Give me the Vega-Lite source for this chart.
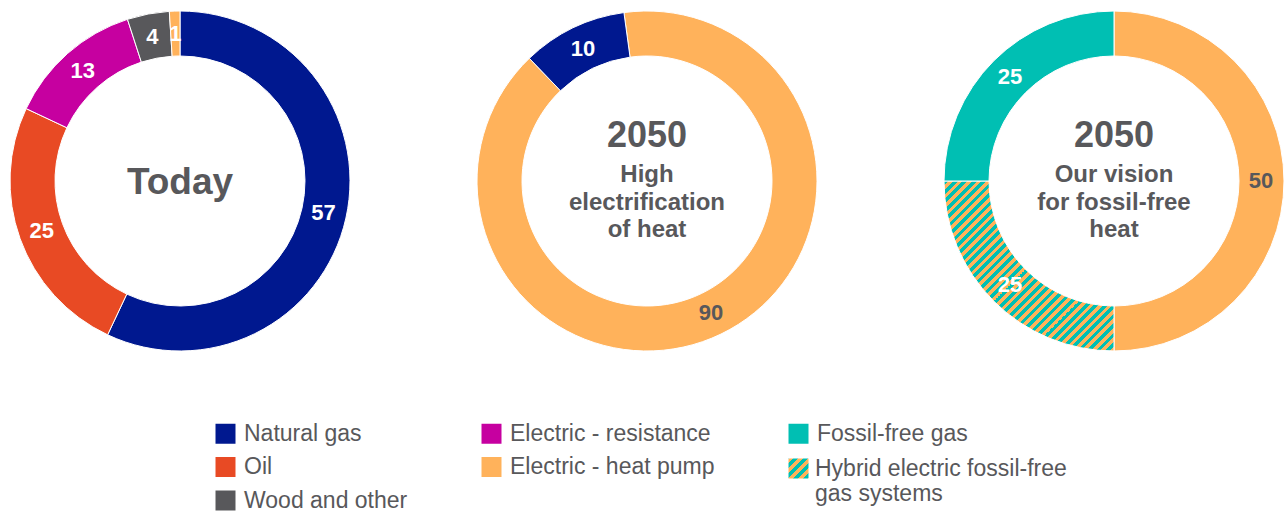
{
  "$schema": "https://vega.github.io/schema/vega-lite/v6.json",
  "background": "white",
  "padding": {"left": 8, "top": 9, "right": 0, "bottom": 0},
  "bounds": "flush",
  "datasets": {
    "heat": [
      {"panel": "Today", "category": "Natural gas", "value": 57, "order": 1},
      {"panel": "Today", "category": "Oil", "value": 25, "order": 2},
      {"panel": "Today", "category": "Electric - resistance", "value": 13, "order": 3},
      {"panel": "Today", "category": "Wood and other", "value": 4, "order": 4},
      {"panel": "Today", "category": "Electric - heat pump", "value": 1, "order": 5},
      {"panel": "2050 high electrification", "category": "Electric - heat pump", "value": 90, "order": 1},
      {"panel": "2050 high electrification", "category": "Natural gas", "value": 10, "order": 2},
      {"panel": "2050 fossil-free vision", "category": "Electric - heat pump", "value": 50, "order": 1},
      {"panel": "2050 fossil-free vision", "category": "Hybrid electric fossil-free gas systems", "value": 25, "order": 2},
      {"panel": "2050 fossil-free vision", "category": "Fossil-free gas", "value": 25, "order": 3}
    ]
  },
  "spacing": 127,
  "hconcat": [
    {
      "width": 340,
      "height": 340,
      "layer": [
        {
          "data": {"name": "heat"},
          "transform": [{"filter": "datum.panel === 'Today'"}],
          "mark": {"type": "arc", "innerRadius": 125, "outerRadius": 170, "stroke": "#ffffff", "strokeWidth": 1},
          "encoding": {
            "theta": {"field": "value", "type": "quantitative", "stack": true},
            "order": {"field": "order", "type": "quantitative"},
            "color": {
              "field": "category", "type": "nominal",
              "scale": {"domain": ["Natural gas", "Electric - resistance", "Fossil-free gas", "Oil", "Electric - heat pump", "Hybrid electric fossil-free gas systems", "Wood and other"]},
              "legend": {"orient": "none", "legendX": 204, "legendY": 411, "columns": 3, "direction": "horizontal", "title": null,
                "values": ["Natural gas", "Electric - resistance", "Fossil-free gas", "Oil", "Electric - heat pump", " ", "Wood and other"]}
            }
          }
        },
        {
          "data": {"name": "heat"},
          "transform": [{"filter": "datum.panel === 'Today'"}],
          "mark": {"type": "text", "radius": 147, "fontSize": 22, "fontWeight": "bold"},
          "encoding": {
            "theta": {"field": "value", "type": "quantitative", "stack": true},
            "order": {"field": "order", "type": "quantitative"},
            "detail": {"field": "category", "type": "nominal"},
            "text": {"field": "value", "type": "quantitative"},
            "color": {"condition": {"test": "datum.category === 'Electric - heat pump' && datum.value >= 50", "value": "#58585b"}, "value": "#ffffff"}
          }
        },
        {
          "data": {"values": [{}]},
          "mark": {"type": "text", "text": "Today", "fontSize": 37, "fontWeight": "bold", "color": "#58585b", "dy": 2},
          "encoding": {}
        }
      ]
    },
    {
      "width": 340,
      "height": 340,
      "layer": [
        {
          "data": {"name": "heat"},
          "transform": [{"filter": "datum.panel === '2050 high electrification'"}],
          "mark": {"type": "arc", "innerRadius": 125, "outerRadius": 170, "stroke": "#ffffff", "strokeWidth": 1},
          "encoding": {
            "theta": {"field": "value", "type": "quantitative", "stack": true, "scale": {"range": [-0.1361, 6.1471]}},
            "order": {"field": "order", "type": "quantitative"},
            "color": {
              "field": "category", "type": "nominal",
              "scale": {"domain": ["Natural gas", "Electric - resistance", "Fossil-free gas", "Oil", "Electric - heat pump", "Hybrid electric fossil-free gas systems", "Wood and other"]},
              "legend": {"orient": "none", "legendX": 204, "legendY": 411, "columns": 3, "direction": "horizontal", "title": null,
                "values": ["Natural gas", "Electric - resistance", "Fossil-free gas", "Oil", "Electric - heat pump", " ", "Wood and other"]}
            }
          }
        },
        {
          "data": {"name": "heat"},
          "transform": [{"filter": "datum.panel === '2050 high electrification'"}],
          "mark": {"type": "text", "radius": 147, "fontSize": 22, "fontWeight": "bold"},
          "encoding": {
            "theta": {"field": "value", "type": "quantitative", "stack": true, "scale": {"range": [-0.1361, 6.1471]}},
            "order": {"field": "order", "type": "quantitative"},
            "detail": {"field": "category", "type": "nominal"},
            "text": {"field": "value", "type": "quantitative"},
            "color": {"condition": {"test": "datum.category === 'Electric - heat pump' && datum.value >= 50", "value": "#58585b"}, "value": "#ffffff"}
          }
        },
        {
          "data": {"values": [{}]},
          "mark": {"type": "text", "text": "2050", "fontSize": 36, "fontWeight": "bold", "color": "#58585b", "dy": -45},
          "encoding": {}
        },
        {
          "data": {"values": [{}]},
          "mark": {"type": "text", "text": ["High", "electrification", "of heat"], "fontSize": 24, "lineHeight": 27.5, "fontWeight": "bold", "color": "#58585b", "dy": -6},
          "encoding": {}
        }
      ]
    },
    {
      "width": 340,
      "height": 340,
      "layer": [
        {
          "data": {"name": "heat"},
          "transform": [{"filter": "datum.panel === '2050 fossil-free vision'"}],
          "mark": {"type": "arc", "innerRadius": 125, "outerRadius": 170, "stroke": "#ffffff", "strokeWidth": 1},
          "encoding": {
            "theta": {"field": "value", "type": "quantitative", "stack": true},
            "order": {"field": "order", "type": "quantitative"},
            "color": {
              "condition": {"test": "datum.category === 'Hybrid electric fossil-free gas systems'", "value": {"gradient": "linear", "x1": 0, "y1": 0, "x2": 1, "y2": 1, "stops": [
                {"offset": 0, "color": "#00bfb3"}, {"offset": 0.0139, "color": "#00bfb3"},
                {"offset": 0.0139, "color": "#ffb25b"}, {"offset": 0.0278, "color": "#ffb25b"},
                {"offset": 0.0278, "color": "#00bfb3"}, {"offset": 0.0417, "color": "#00bfb3"},
                {"offset": 0.0417, "color": "#ffb25b"}, {"offset": 0.0556, "color": "#ffb25b"},
                {"offset": 0.0556, "color": "#00bfb3"}, {"offset": 0.0694, "color": "#00bfb3"},
                {"offset": 0.0694, "color": "#ffb25b"}, {"offset": 0.0833, "color": "#ffb25b"},
                {"offset": 0.0833, "color": "#00bfb3"}, {"offset": 0.0972, "color": "#00bfb3"},
                {"offset": 0.0972, "color": "#ffb25b"}, {"offset": 0.1111, "color": "#ffb25b"},
                {"offset": 0.1111, "color": "#00bfb3"}, {"offset": 0.125, "color": "#00bfb3"},
                {"offset": 0.125, "color": "#ffb25b"}, {"offset": 0.1389, "color": "#ffb25b"},
                {"offset": 0.1389, "color": "#00bfb3"}, {"offset": 0.1528, "color": "#00bfb3"},
                {"offset": 0.1528, "color": "#ffb25b"}, {"offset": 0.1667, "color": "#ffb25b"},
                {"offset": 0.1667, "color": "#00bfb3"}, {"offset": 0.1806, "color": "#00bfb3"},
                {"offset": 0.1806, "color": "#ffb25b"}, {"offset": 0.1944, "color": "#ffb25b"},
                {"offset": 0.1944, "color": "#00bfb3"}, {"offset": 0.2083, "color": "#00bfb3"},
                {"offset": 0.2083, "color": "#ffb25b"}, {"offset": 0.2222, "color": "#ffb25b"},
                {"offset": 0.2222, "color": "#00bfb3"}, {"offset": 0.2361, "color": "#00bfb3"},
                {"offset": 0.2361, "color": "#ffb25b"}, {"offset": 0.25, "color": "#ffb25b"},
                {"offset": 0.25, "color": "#00bfb3"}, {"offset": 0.2639, "color": "#00bfb3"},
                {"offset": 0.2639, "color": "#ffb25b"}, {"offset": 0.2778, "color": "#ffb25b"},
                {"offset": 0.2778, "color": "#00bfb3"}, {"offset": 0.2917, "color": "#00bfb3"},
                {"offset": 0.2917, "color": "#ffb25b"}, {"offset": 0.3056, "color": "#ffb25b"},
                {"offset": 0.3056, "color": "#00bfb3"}, {"offset": 0.3194, "color": "#00bfb3"},
                {"offset": 0.3194, "color": "#ffb25b"}, {"offset": 0.3333, "color": "#ffb25b"},
                {"offset": 0.3333, "color": "#00bfb3"}, {"offset": 0.3472, "color": "#00bfb3"},
                {"offset": 0.3472, "color": "#ffb25b"}, {"offset": 0.3611, "color": "#ffb25b"},
                {"offset": 0.3611, "color": "#00bfb3"}, {"offset": 0.375, "color": "#00bfb3"},
                {"offset": 0.375, "color": "#ffb25b"}, {"offset": 0.3889, "color": "#ffb25b"},
                {"offset": 0.3889, "color": "#00bfb3"}, {"offset": 0.4028, "color": "#00bfb3"},
                {"offset": 0.4028, "color": "#ffb25b"}, {"offset": 0.4167, "color": "#ffb25b"},
                {"offset": 0.4167, "color": "#00bfb3"}, {"offset": 0.4306, "color": "#00bfb3"},
                {"offset": 0.4306, "color": "#ffb25b"}, {"offset": 0.4444, "color": "#ffb25b"},
                {"offset": 0.4444, "color": "#00bfb3"}, {"offset": 0.4583, "color": "#00bfb3"},
                {"offset": 0.4583, "color": "#ffb25b"}, {"offset": 0.4722, "color": "#ffb25b"},
                {"offset": 0.4722, "color": "#00bfb3"}, {"offset": 0.4861, "color": "#00bfb3"},
                {"offset": 0.4861, "color": "#ffb25b"}, {"offset": 0.5, "color": "#ffb25b"},
                {"offset": 0.5, "color": "#00bfb3"}, {"offset": 0.5139, "color": "#00bfb3"},
                {"offset": 0.5139, "color": "#ffb25b"}, {"offset": 0.5278, "color": "#ffb25b"},
                {"offset": 0.5278, "color": "#00bfb3"}, {"offset": 0.5417, "color": "#00bfb3"},
                {"offset": 0.5417, "color": "#ffb25b"}, {"offset": 0.5556, "color": "#ffb25b"},
                {"offset": 0.5556, "color": "#00bfb3"}, {"offset": 0.5694, "color": "#00bfb3"},
                {"offset": 0.5694, "color": "#ffb25b"}, {"offset": 0.5833, "color": "#ffb25b"},
                {"offset": 0.5833, "color": "#00bfb3"}, {"offset": 0.5972, "color": "#00bfb3"},
                {"offset": 0.5972, "color": "#ffb25b"}, {"offset": 0.6111, "color": "#ffb25b"},
                {"offset": 0.6111, "color": "#00bfb3"}, {"offset": 0.625, "color": "#00bfb3"},
                {"offset": 0.625, "color": "#ffb25b"}, {"offset": 0.6389, "color": "#ffb25b"},
                {"offset": 0.6389, "color": "#00bfb3"}, {"offset": 0.6528, "color": "#00bfb3"},
                {"offset": 0.6528, "color": "#ffb25b"}, {"offset": 0.6667, "color": "#ffb25b"},
                {"offset": 0.6667, "color": "#00bfb3"}, {"offset": 0.6806, "color": "#00bfb3"},
                {"offset": 0.6806, "color": "#ffb25b"}, {"offset": 0.6944, "color": "#ffb25b"},
                {"offset": 0.6944, "color": "#00bfb3"}, {"offset": 0.7083, "color": "#00bfb3"},
                {"offset": 0.7083, "color": "#ffb25b"}, {"offset": 0.7222, "color": "#ffb25b"},
                {"offset": 0.7222, "color": "#00bfb3"}, {"offset": 0.7361, "color": "#00bfb3"},
                {"offset": 0.7361, "color": "#ffb25b"}, {"offset": 0.75, "color": "#ffb25b"},
                {"offset": 0.75, "color": "#00bfb3"}, {"offset": 0.7639, "color": "#00bfb3"},
                {"offset": 0.7639, "color": "#ffb25b"}, {"offset": 0.7778, "color": "#ffb25b"},
                {"offset": 0.7778, "color": "#00bfb3"}, {"offset": 0.7917, "color": "#00bfb3"},
                {"offset": 0.7917, "color": "#ffb25b"}, {"offset": 0.8056, "color": "#ffb25b"},
                {"offset": 0.8056, "color": "#00bfb3"}, {"offset": 0.8194, "color": "#00bfb3"},
                {"offset": 0.8194, "color": "#ffb25b"}, {"offset": 0.8333, "color": "#ffb25b"},
                {"offset": 0.8333, "color": "#00bfb3"}, {"offset": 0.8472, "color": "#00bfb3"},
                {"offset": 0.8472, "color": "#ffb25b"}, {"offset": 0.8611, "color": "#ffb25b"},
                {"offset": 0.8611, "color": "#00bfb3"}, {"offset": 0.875, "color": "#00bfb3"},
                {"offset": 0.875, "color": "#ffb25b"}, {"offset": 0.8889, "color": "#ffb25b"},
                {"offset": 0.8889, "color": "#00bfb3"}, {"offset": 0.9028, "color": "#00bfb3"},
                {"offset": 0.9028, "color": "#ffb25b"}, {"offset": 0.9167, "color": "#ffb25b"},
                {"offset": 0.9167, "color": "#00bfb3"}, {"offset": 0.9306, "color": "#00bfb3"},
                {"offset": 0.9306, "color": "#ffb25b"}, {"offset": 0.9444, "color": "#ffb25b"},
                {"offset": 0.9444, "color": "#00bfb3"}, {"offset": 0.9583, "color": "#00bfb3"},
                {"offset": 0.9583, "color": "#ffb25b"}, {"offset": 0.9722, "color": "#ffb25b"},
                {"offset": 0.9722, "color": "#00bfb3"}, {"offset": 0.9861, "color": "#00bfb3"},
                {"offset": 0.9861, "color": "#ffb25b"}, {"offset": 1, "color": "#ffb25b"}
              ]}},
              "field": "category", "type": "nominal",
              "scale": {"domain": ["Natural gas", "Electric - resistance", "Fossil-free gas", "Oil", "Electric - heat pump", "Hybrid electric fossil-free gas systems", "Wood and other"]},
              "legend": {"orient": "none", "legendX": 204, "legendY": 411, "columns": 3, "direction": "horizontal", "title": null,
                "values": ["Natural gas", "Electric - resistance", "Fossil-free gas", "Oil", "Electric - heat pump", " ", "Wood and other"]}
            },
            "opacity": {
              "field": "category", "type": "nominal",
              "scale": {"domain": ["Hybrid electric fossil-free gas systems", "Electric - heat pump", "Fossil-free gas"], "range": [1, 1, 1]},
              "legend": {
                "orient": "none", "legendX": 777, "legendY": 446, "title": null,
                "values": ["Hybrid electric fossil-free gas systems"],
                "labelExpr": "['Hybrid electric fossil-free', 'gas systems']",
                "labelOffset": 5,
                "encode": {
                  "symbols": {"update": {"fill": {"value": {"gradient": "linear", "x1": 0, "y1": 0, "x2": 1, "y2": 1, "stops": [
                    {"offset": 0, "color": "#00bfb3"}, {"offset": 0.1667, "color": "#00bfb3"},
                    {"offset": 0.1667, "color": "#ffb25b"}, {"offset": 0.3333, "color": "#ffb25b"},
                    {"offset": 0.3333, "color": "#00bfb3"}, {"offset": 0.5, "color": "#00bfb3"},
                    {"offset": 0.5, "color": "#ffb25b"}, {"offset": 0.6667, "color": "#ffb25b"},
                    {"offset": 0.6667, "color": "#00bfb3"}, {"offset": 0.8333, "color": "#00bfb3"},
                    {"offset": 0.8333, "color": "#ffb25b"}, {"offset": 1, "color": "#ffb25b"}
                  ]}}, "opacity": {"value": 1}}},
                  "labels": {"update": {"lineHeight": {"value": 28}}}
                }
              }
            }
          }
        },
        {
          "data": {"name": "heat"},
          "transform": [{"filter": "datum.panel === '2050 fossil-free vision'"}],
          "mark": {"type": "text", "radius": 147, "fontSize": 22, "fontWeight": "bold"},
          "encoding": {
            "theta": {"field": "value", "type": "quantitative", "stack": true},
            "order": {"field": "order", "type": "quantitative"},
            "detail": {"field": "category", "type": "nominal"},
            "text": {"field": "value", "type": "quantitative"},
            "color": {"condition": {"test": "datum.category === 'Electric - heat pump' && datum.value >= 50", "value": "#58585b"}, "value": "#ffffff"}
          }
        },
        {
          "data": {"values": [{}]},
          "mark": {"type": "text", "text": "2050", "fontSize": 36, "fontWeight": "bold", "color": "#58585b", "dy": -45},
          "encoding": {}
        },
        {
          "data": {"values": [{}]},
          "mark": {"type": "text", "text": ["Our vision", "for fossil-free", "heat"], "fontSize": 24, "lineHeight": 27.5, "fontWeight": "bold", "color": "#58585b", "dy": -6},
          "encoding": {}
        }
      ]
    }
  ],
  "config": {
    "view": {"stroke": null},
    "font": "Liberation Sans",
    "text": {"font": "Liberation Sans"},
    "range": {
      "category": ["#00188f", "#c600a0", "#00bfb3", "#e84a24", "#ffb25b", "#ffb25b", "#58585b"]
    },
    "legend": {
      "symbolType": "square",
      "symbolSize": 400,
      "symbolStrokeWidth": 0,
      "symbolOpacity": 1,
      "labelFont": "Liberation Sans",
      "labelFontSize": 23,
      "labelColor": "#58585b",
      "labelOffset": 7,
      "labelLimit": 400,
      "rowPadding": 9.5,
      "columnPadding": 72,
      "padding": 0,
      "gridAlign": "each"
    }
  }
}
